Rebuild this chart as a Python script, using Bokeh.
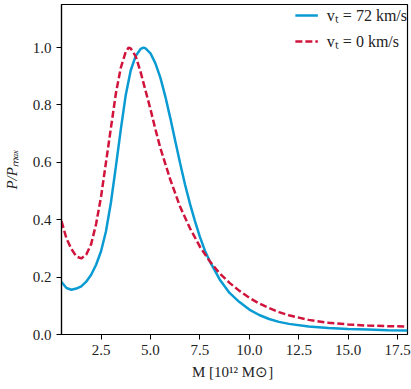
from bokeh.plotting import figure
from bokeh.models import FixedTicker, NumeralTickFormatter, Range1d, Legend, LegendItem
from bokeh.embed import file_html
from bokeh.resources import INLINE

# Data
m_fast = [0.5, 0.75, 1.0, 1.25, 1.5, 1.75, 2.0, 2.25, 2.5, 2.75, 3.0, 3.25, 3.5, 3.75,
          4.0, 4.25, 4.5, 4.65, 4.75, 5.0, 5.25, 5.5, 5.75, 6.0, 6.25, 6.5, 6.75, 7.0,
          7.25, 7.5, 7.75, 8.0, 8.5, 9.0, 9.5, 10.0, 10.5, 11.0, 11.5, 12.0, 13.0, 14.0,
          15.0, 16.0, 17.0, 18.0]
p_fast = [0.183, 0.162, 0.156, 0.160, 0.168, 0.184, 0.208, 0.243, 0.290, 0.360, 0.460,
          0.585, 0.715, 0.835, 0.920, 0.970, 0.995, 1.0, 0.997, 0.980, 0.945, 0.895,
          0.830, 0.755, 0.675, 0.597, 0.522, 0.455, 0.395, 0.340, 0.293, 0.255, 0.192,
          0.145, 0.113, 0.087, 0.068, 0.054, 0.044, 0.037, 0.028, 0.023, 0.019, 0.017,
          0.015, 0.014]

m_zero = [0.5, 0.75, 1.0, 1.25, 1.5, 1.75, 2.0, 2.25, 2.5, 2.75, 3.0, 3.25, 3.5, 3.75,
          3.9, 4.0, 4.25, 4.5, 4.75, 5.0, 5.25, 5.5, 5.75, 6.0, 6.5, 7.0, 7.5, 8.0, 8.5,
          9.0, 9.5, 10.0, 10.5, 11.0, 11.5, 12.0, 13.0, 14.0, 15.0, 16.0, 17.0, 18.0]
p_zero = [0.395, 0.335, 0.298, 0.272, 0.265, 0.278, 0.315, 0.385, 0.480, 0.600, 0.720,
          0.840, 0.930, 0.985, 1.0, 0.997, 0.970, 0.915, 0.850, 0.785, 0.715, 0.650,
          0.595, 0.540, 0.445, 0.370, 0.306, 0.255, 0.213, 0.180, 0.152, 0.128, 0.108,
          0.092, 0.078, 0.067, 0.051, 0.041, 0.035, 0.031, 0.029, 0.028]

x_ticks = [2.5, 5.0, 7.5, 10.0, 12.5, 15.0, 17.5]
y_ticks = [0.0, 0.2, 0.4, 0.6, 0.8, 1.0]
labels = ["vₜ = 72 km/s", "vₜ = 0 km/s"]

BLUE = "#0A9BD3"
RED = "#D0143C"
FONT = "Liberation Serif"

p = figure(width=411, height=389, output_backend="svg", toolbar_location=None,
           x_range=Range1d(0.5, 18.0), y_range=Range1d(0.0, 1.15),
           min_border_left=61, min_border_right=4, min_border_top=4, min_border_bottom=55)

r1 = p.line(m_fast, p_fast, line_color=BLUE, line_width=2.5)
r2 = p.line(m_zero, p_zero, line_color=RED, line_width=2.5, line_dash="7 3")

p.xgrid.visible = False
p.ygrid.visible = False
p.outline_line_color = "black"
p.outline_line_width = 1.2
p.background_fill_color = "white"
p.border_fill_color = "white"

for ax in (p.xaxis[0], p.yaxis[0]):
    ax.major_label_text_font = FONT
    ax.major_label_text_font_size = "15px"
    ax.major_label_text_color = "#222222"
    ax.axis_label_text_font = FONT
    ax.axis_label_text_font_size = "15px"
    ax.axis_label_text_color = "#222222"
    ax.minor_tick_line_color = None
    ax.major_tick_in = 0
    ax.major_tick_out = 5
    ax.axis_line_color = "black"
    ax.axis_line_width = 1.2
    ax.major_tick_line_width = 1
    ax.formatter = NumeralTickFormatter(format="0.0")

p.xaxis.ticker = FixedTicker(ticks=x_ticks)
p.yaxis.ticker = FixedTicker(ticks=y_ticks)
p.xaxis.axis_label = "M  [10¹² M⊙]"
p.yaxis.axis_label = "P/Pₘₐₓ"
p.xaxis.axis_label_text_font_style = "normal"
p.yaxis.axis_label_text_font_style = "italic"
p.xaxis.axis_label_standoff = 6
p.yaxis.axis_label_standoff = 10

legend = Legend(items=[LegendItem(label=labels[0], renderers=[r1]),
                       LegendItem(label=labels[1], renderers=[r2])],
                location="top_right")
legend.border_line_color = None
legend.background_fill_alpha = 0.0
legend.label_text_font = FONT
legend.label_text_font_size = "16px"
legend.label_text_color = "#222222"
legend.glyph_width = 23
legend.label_standoff = 9
legend.spacing = 4
legend.padding = 3
legend.margin = 0
p.add_layout(legend)

open("out.html", "w").write(file_html(p, INLINE))
